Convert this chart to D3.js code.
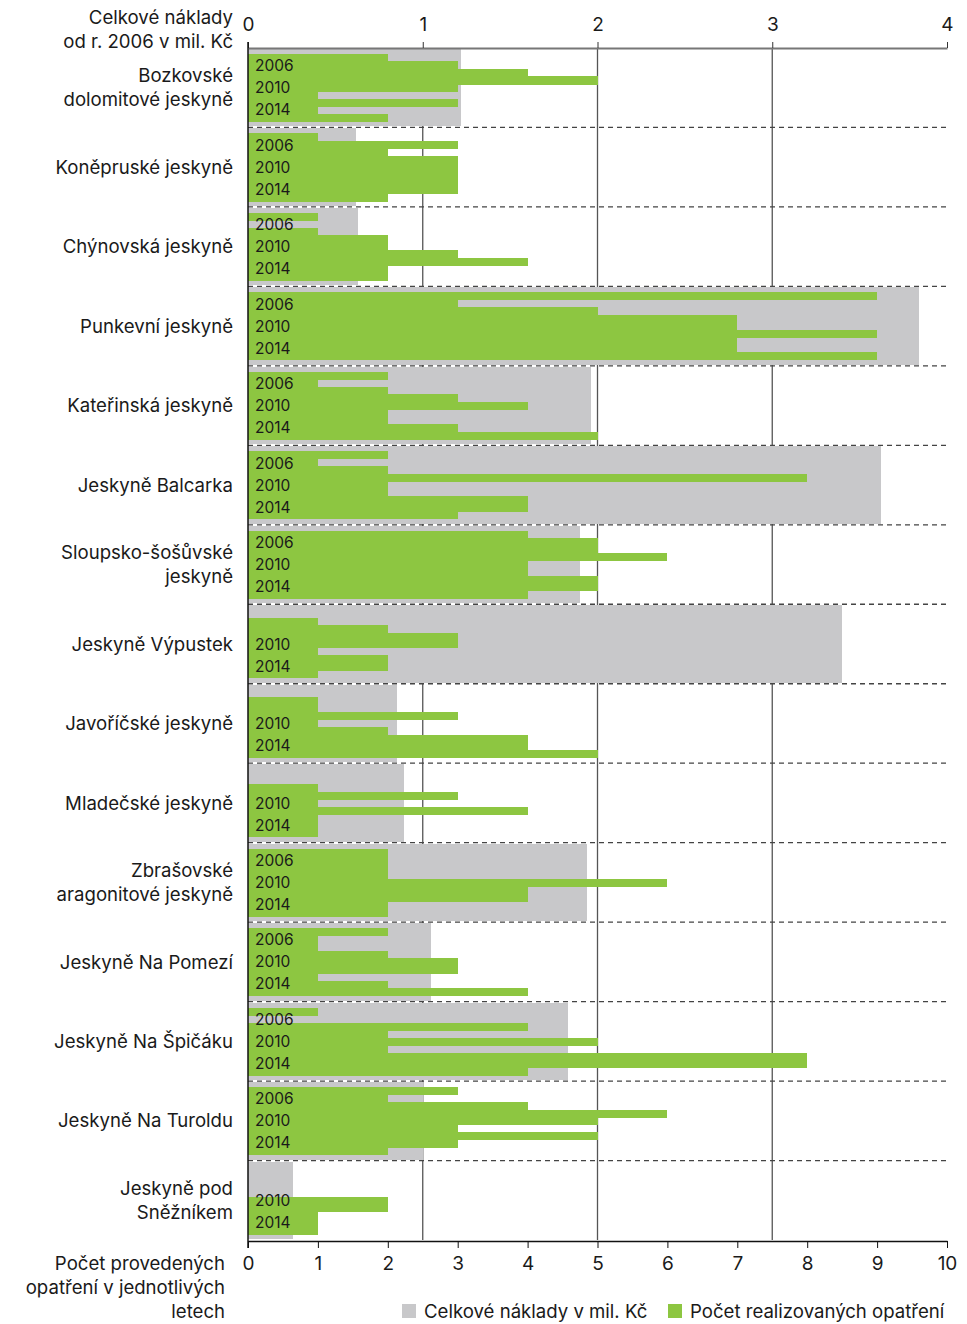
<!DOCTYPE html>
<html>
<head>
<meta charset="UTF-8">
<title>Jeskyně - náklady a opatření</title>
<script src="https://d3js.org/d3.v7.min.js"></script>
<style>
  body { margin: 0; background: #fff; }
  text { font-family: Inter, "Noto Sans", sans-serif; fill: #1a1a1a; }
  rect { shape-rendering: crispEdges; }
</style>
</head>
<body>
<script>
// jeskyně (shora dolů), \n = zalomení řádku
var caves = [
  "Bozkovské\ndolomitové jeskyně",
  "Koněpruské jeskyně",
  "Chýnovská jeskyně",
  "Punkevní jeskyně",
  "Kateřinská jeskyně",
  "Jeskyně Balcarka",
  "Sloupsko-šošůvské\njeskyně",
  "Jeskyně Výpustek",
  "Javoříčské jeskyně",
  "Mladečské jeskyně",
  "Zbrašovské\naragonitové jeskyně",
  "Jeskyně Na Pomezí",
  "Jeskyně Na Špičáku",
  "Jeskyně Na Turoldu",
  "Jeskyně pod\nSněžníkem"
];
// celkové náklady od r. 2006 v mil. Kč
var costs = [1.22, 0.62, 0.63, 3.84, 1.96, 3.62, 1.90, 3.40, 0.85, 0.89, 1.94, 1.05, 1.83, 1.00, 0.26];
var years = [2006, 2007, 2008, 2009, 2010, 2011, 2012, 2013, 2014];
var yearLabels = [2006, 2010, 2014];
// počet realizovaných opatření v jednotlivých letech 2006-2014
var measures = [
  [2, 3, 4, 5, 3, 1, 3, 1, 2],
  [1, 3, 2, 3, 3, 3, 3, 3, 2],
  [1, 0, 1, 2, 2, 3, 4, 2, 2],
  [9, 3, 5, 7, 7, 9, 7, 7, 9],
  [2, 1, 2, 3, 4, 2, 2, 3, 5],
  [2, 1, 2, 8, 2, 2, 4, 4, 3],
  [4, 5, 5, 6, 4, 4, 5, 5, 4],
  [0, 1, 2, 3, 3, 1, 2, 2, 1],
  [0, 1, 1, 3, 1, 2, 4, 4, 5],
  [0, 0, 1, 3, 1, 4, 1, 1, 1],
  [2, 2, 2, 2, 6, 4, 4, 2, 2],
  [2, 1, 1, 2, 3, 3, 1, 2, 4],
  [1, 0, 4, 2, 5, 2, 8, 8, 4],
  [3, 2, 4, 6, 5, 3, 5, 3, 2],
  [0, 0, 0, 0, 2, 2, 1, 1, 1]
];
var costTicks = [0, 1, 2, 3, 4];
var countTicks = [0, 1, 2, 3, 4, 5, 6, 7, 8, 9, 10];

var width = 967, height = 1324;
var plotL = 248, plotR = 947, plotT = 48, plotB = 1240;
var grayCol = "#c8c8ca", greenCol = "#8dc641";
var fs = 18.6;

var svg = d3.select("body").append("svg")
  .attr("width", width)
  .attr("height", height);

var xCost = d3.scaleLinear().domain([0, 4]).range([plotL, plotR]);
var xCount = d3.scaleLinear().domain([0, 10]).range([plotL, plotR]);
var y = d3.scaleBand().domain(d3.range(caves.length)).range([plotT, plotB]);
var bh = y.bandwidth();
var yYear = d3.scaleBand().domain(years).range([6, bh - 6]);

// svislé mřížky (podle horní osy)
svg.append("g").selectAll("line")
  .data(costTicks.slice(1, 4))
  .enter().append("line")
  .attr("x1", function (d) { return xCost(d); })
  .attr("x2", function (d) { return xCost(d); })
  .attr("y1", plotT).attr("y2", plotB)
  .attr("stroke", "#555").attr("stroke-width", 1.3);

var g = svg.selectAll("g.cave")
  .data(caves)
  .enter().append("g")
  .attr("class", "cave")
  .attr("transform", function (d, i) { return "translate(0," + y(i) + ")"; });

// šedé pruhy - náklady
g.append("rect")
  .attr("x", plotL)
  .attr("y", 1)
  .attr("width", function (d, i) { return xCost(costs[i]) - plotL; })
  .attr("height", bh - 2)
  .attr("fill", grayCol);

// zelené pruhy - počet opatření
g.each(function (d, i) {
  d3.select(this).selectAll("rect.m")
    .data(measures[i])
    .enter().append("rect")
    .attr("class", "m")
    .attr("x", plotL)
    .attr("y", function (v, j) { return yYear(years[j]); })
    .attr("width", function (v) { return xCount(v) - plotL; })
    .attr("height", yYear.bandwidth() + 0.6)
    .attr("fill", greenCol);

  // popisky let
  d3.select(this).selectAll("text.yr")
    .data(yearLabels.filter(function (yr) { return measures[i][years.indexOf(yr)] > 0; }))
    .enter().append("text")
    .attr("class", "yr")
    .attr("x", plotL + 7)
    .attr("y", function (yr) { return bh / 2 + (yearLabels.indexOf(yr) - 1) * 22; })
    .attr("dy", "0.36em")
    .attr("font-size", 15.5)
    .text(function (yr) { return yr; });

  // název jeskyně
  var lines = d.split("\n");
  d3.select(this).selectAll("text.name")
    .data(lines)
    .enter().append("text")
    .attr("class", "name")
    .attr("x", 233)
    .attr("y", function (t, k) { return bh / 2 + (k - (lines.length - 1) / 2) * 24; })
    .attr("dy", "0.36em")
    .attr("text-anchor", "end")
    .attr("font-size", fs)
    .text(function (t) { return t; });
});

// přerušované oddělovače
svg.append("g").selectAll("line")
  .data(d3.range(1, caves.length))
  .enter().append("line")
  .attr("x1", plotL).attr("x2", plotR)
  .attr("y1", function (i) { return y(i); })
  .attr("y2", function (i) { return y(i); })
  .attr("stroke", "#444")
  .attr("stroke-width", 1.3)
  .attr("stroke-dasharray", "5,4");

// horní osa
var topAxis = svg.append("g")
  .attr("transform", "translate(0," + plotT + ")")
  .call(d3.axisTop(xCost).tickValues(costTicks).tickFormat(d3.format("d")).tickSize(6).tickPadding(11).tickSizeOuter(0));
topAxis.select(".domain").attr("stroke", "#777").attr("stroke-width", 2);
topAxis.selectAll(".tick line").attr("stroke", "#333");
topAxis.selectAll("text").attr("font-size", 19).attr("font-family", "Inter, sans-serif").attr("fill", "#1a1a1a");

// dolní osa
var botAxis = svg.append("g")
  .attr("transform", "translate(0," + (plotB + 1) + ")")
  .call(d3.axisBottom(xCount).tickValues(countTicks).tickSize(7).tickPadding(9).tickSizeOuter(0));
botAxis.select(".domain").attr("stroke", "#111").attr("stroke-width", 1.5);
botAxis.selectAll(".tick line").attr("stroke", "#111");
botAxis.selectAll("text").attr("font-size", 19).attr("font-family", "Inter, sans-serif").attr("fill", "#1a1a1a");

// levá osa
svg.append("line")
  .attr("x1", plotL).attr("x2", plotL)
  .attr("y1", plotT - 6).attr("y2", plotB + 8)
  .attr("stroke", "#111").attr("stroke-width", 1.5);

// popisky os
var topTitle = ["Celkové náklady", "od r. 2006 v mil. Kč"];
svg.selectAll("text.tt")
  .data(topTitle)
  .enter().append("text")
  .attr("x", 233)
  .attr("y", function (d, i) { return 17 + i * 24; })
  .attr("dy", "0.36em")
  .attr("text-anchor", "end")
  .attr("font-size", fs)
  .text(function (d) { return d; });

var botTitle = ["Počet provedených", "opatření v jednotlivých", "letech"];
svg.selectAll("text.bt")
  .data(botTitle)
  .enter().append("text")
  .attr("x", 225)
  .attr("y", function (d, i) { return 1263 + i * 24; })
  .attr("dy", "0.36em")
  .attr("text-anchor", "end")
  .attr("font-size", fs)
  .text(function (d) { return d; });

// legenda
var legend = [
  { label: "Celkové náklady v mil. Kč", color: grayCol, x: 402 },
  { label: "Počet realizovaných opatření", color: greenCol, x: 668 }
];
var lg = svg.selectAll("g.lg")
  .data(legend)
  .enter().append("g")
  .attr("transform", function (d) { return "translate(" + d.x + ",1311)"; });
lg.append("rect")
  .attr("x", 0).attr("y", -7)
  .attr("width", 14).attr("height", 14)
  .attr("fill", function (d) { return d.color; });
lg.append("text")
  .attr("x", 22)
  .attr("dy", "0.36em")
  .attr("font-size", fs)
  .text(function (d) { return d.label; });
</script>
</body>
</html>
